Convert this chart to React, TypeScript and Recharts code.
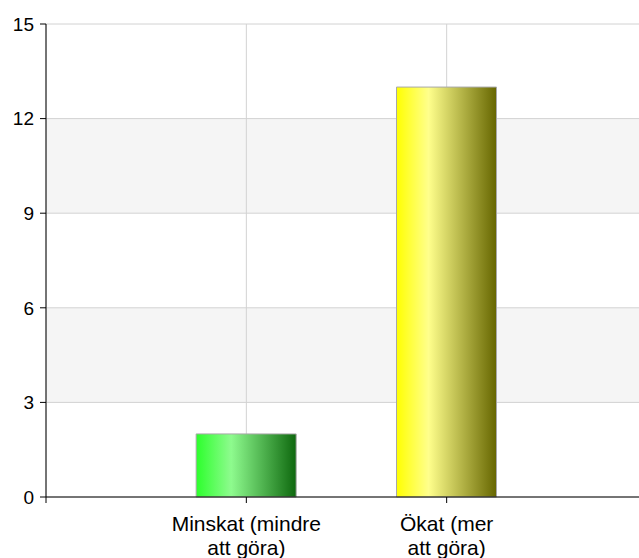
import React from "react"
import { BarChart, Bar, XAxis, YAxis, CartesianGrid, Cell } from "recharts"

const categories = ["Minskat (mindre att göra)", "Ökat (mer att göra)"]
const counts = [2, 13]
const tickLines = [
  ["Minskat (mindre", "att göra)"],
  ["Ökat (mer", "att göra)"],
]
const yTicks = [0, 3, 6, 9, 12, 15]
const xTicks = [0, 1, 2, 3]
const gradients = ["greenBar", "yellowBar"]

const data = categories.map((name, i) => ({ pos: i + 1, name, value: counts[i] }))

const FONT = "'Liberation Sans', Arial, sans-serif"

const XTick = ({ x, y, payload }: any) => {
  const idx = payload.value - 1
  const lines = tickLines[idx]
  if (!lines) return null
  return (
    <text x={x} y={y} textAnchor="middle" fontFamily={FONT} fontSize={21} fill="#000">
      {lines.map((line, i) => (
        <tspan key={i} x={x} dy={i === 0 ? 26 : 24}>
          {line}
        </tspan>
      ))}
    </text>
  )
}

export default function App() {
  return (
    <div style={{ position: "absolute", left: 0, top: 0, width: 639, height: 558, overflow: "hidden", background: "#fff" }}>
      <BarChart width={647} height={558} data={data} margin={{ top: 24, right: 0, left: 0, bottom: 0 }}>
        <defs>
          <linearGradient id="greenBar" x1="0" y1="0" x2="1" y2="0">
            <stop offset="0%" stopColor="#2cff2c" />
            <stop offset="35%" stopColor="#8efb8e" />
            <stop offset="100%" stopColor="#0e680e" />
          </linearGradient>
          <linearGradient id="yellowBar" x1="0" y1="0" x2="1" y2="0">
            <stop offset="0%" stopColor="#ffff00" />
            <stop offset="32%" stopColor="#ffff8c" />
            <stop offset="100%" stopColor="#666600" />
          </linearGradient>
        </defs>
        <CartesianGrid stroke="#d2d2d2" horizontalFill={["#ffffff", "#f5f5f5"]} fillOpacity={1} />
        <XAxis
          dataKey="pos"
          type="number"
          domain={[0, 3]}
          ticks={xTicks}
          interval={0}
          height={61}
          stroke="#000"
          tickSize={6}
          tick={<XTick />}
        />
        <YAxis
          domain={[0, 15]}
          ticks={yTicks}
          width={46}
          stroke="#000"
          tickSize={6}
          tickMargin={6}
          tick={{ fontFamily: FONT, fontSize: 19, fill: "#000" }}
        />
        <Bar dataKey="value" barSize={100} stroke="#a8a8a8" strokeWidth={1} isAnimationActive={false}>
          {data.map((d, i) => (
            <Cell key={d.name} fill={`url(#${gradients[i]})`} />
          ))}
        </Bar>
      </BarChart>
    </div>
  )
}
